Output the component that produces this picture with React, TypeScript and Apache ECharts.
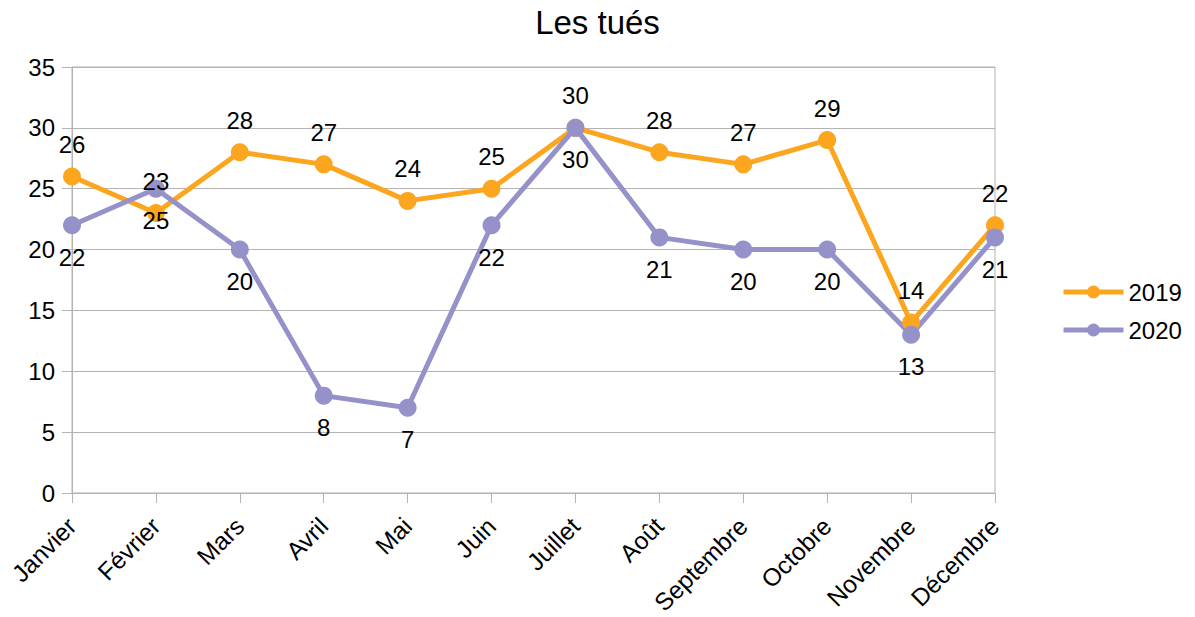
import React, { useEffect, useRef } from "react";
import * as echarts from "echarts";

const months = ["Janvier", "Février", "Mars", "Avril", "Mai", "Juin", "Juillet", "Août", "Septembre", "Octobre", "Novembre", "Décembre"];
const s2019 = [26, 23, 28, 27, 24, 25, 30, 28, 27, 29, 14, 22];
const s2020 = [22, 25, 20, 8, 7, 22, 30, 21, 20, 20, 13, 21];
const seriesNames = ["2019", "2020"];
const title = "Les tués";

const FONT = "'Liberation Sans', Arial, sans-serif";
const ORANGE = "#fca61f";
const PURPLE = "#9591c9";

export default function App() {
  const ref = useRef<HTMLDivElement>(null);
  useEffect(() => {
    const chart = echarts.init(ref.current!, null, { renderer: "svg" });
    const mk = (name: string, data: number[], color: string, pos: string) => ({
      name,
      type: "line",
      data,
      symbol: "circle",
      symbolSize: 18,
      lineStyle: { color, width: 5 },
      itemStyle: { color },
      label: {
        show: true,
        position: pos,
        distance: 11,
        color: "#000",
        fontFamily: FONT,
        fontSize: 24,
      },
    });
    chart.setOption({
      animation: false,
      backgroundColor: "#fff",
      textStyle: { fontFamily: FONT },
      title: {
        text: title,
        left: "center",
        top: 1,
        textStyle: { fontFamily: FONT, fontSize: 33, fontWeight: "normal", color: "#000" },
      },
      legend: {
        orient: "vertical",
        left: 1056,
        top: 275,
        itemWidth: 60,
        itemHeight: 16,
        itemGap: 14,
        lineStyle: { width: 5 },
        textStyle: { fontFamily: FONT, fontSize: 24, color: "#000" },
        data: seriesNames,
      },
      grid: {
        left: 72,
        right: 200,
        top: 67,
        bottom: 124,
        containLabel: false,
        outerBoundsMode: "none",
        show: true,
        borderColor: "#b3b3b3",
        borderWidth: 1,
      },
      xAxis: {
        type: "category",
        data: months,
        boundaryGap: false,
        axisLine: { lineStyle: { color: "#b3b3b3", width: 1 } },
        axisTick: { show: true, length: 10, lineStyle: { color: "#b3b3b3" } },
        axisLabel: { rotate: 45, color: "#000", fontSize: 24.5, fontFamily: FONT, margin: 29, interval: 0 },
        splitLine: { show: false },
      },
      yAxis: {
        type: "value",
        min: 0,
        max: 35,
        interval: 5,
        axisLine: { show: true, lineStyle: { color: "#b3b3b3", width: 1 } },
        axisTick: { show: true, length: 10, lineStyle: { color: "#b3b3b3" } },
        axisLabel: { color: "#000", fontSize: 24, fontFamily: FONT, margin: 17 },
        splitLine: { show: true, lineStyle: { color: "#b3b3b3", width: 1 } },
      },
      series: [mk(seriesNames[0], s2019, ORANGE, "top"), mk(seriesNames[1], s2020, PURPLE, "bottom")],
    });
    return () => chart.dispose();
  }, []);
  return <div ref={ref} style={{ position: "fixed", left: 0, top: 0, width: 1195, height: 617 }} />;
}
